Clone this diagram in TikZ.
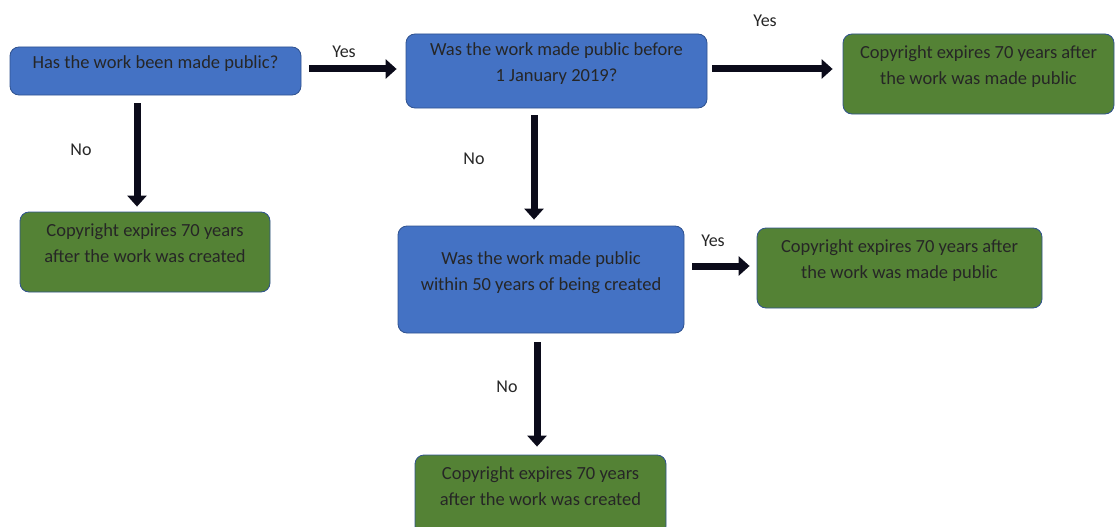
\documentclass[tikz,border=0pt]{standalone}
\usepackage{fontspec}
\setmainfont{Carlito}
\usetikzlibrary{arrows.meta}
\definecolor{qblue}{HTML}{4472C4}
\definecolor{qgreen}{HTML}{548235}
\definecolor{qline}{HTML}{2F528F}
\definecolor{arrowink}{HTML}{0B0B1A}
\tikzset{
  question/.style={shape=rectangle, rounded corners=9pt, draw=qline, fill=qblue, thick, align=center, text depth=17pt, text=black!85, font=\fontsize{18.5}{26}\selectfont},
  answer/.style={question, fill=qgreen},
  flow/.style={-{Triangle[length=11pt,width=19pt]}, line width=7pt, draw=arrowink},
  tag/.style={text=black!85, font=\fontsize{18}{20}\selectfont}
}
\begin{document}
\begin{tikzpicture}[x=1pt, y=-1pt]
\useasboundingbox (0,0) rectangle (1116,527);
% questions
\node[question, minimum width=291pt, minimum height=48pt] (pub) at (155.5,71) {Has the work been made public?};
\node[question, minimum width=301pt, minimum height=74pt] (before) at (556.5,71) {Was the work made public before\\1 January 2019?};
\node[question, minimum width=286pt, minimum height=107pt] (within) at (541,279.5) {Was the work made public\\within 50 years of being created};
% answers
\node[answer, minimum width=271pt, minimum height=80pt] (afterpub1) at (978.5,74) {Copyright expires 70 years after\\the work was made public};
\node[answer, minimum width=250pt, minimum height=80pt] (created1) at (145,252) {Copyright expires 70 years\\after the work was created};
\node[answer, minimum width=285pt, minimum height=80pt] (afterpub2) at (899.5,268) {Copyright expires 70 years after\\the work was made public};
\node[answer, minimum width=251pt, minimum height=80pt] (created2) at (540.5,495) {Copyright expires 70 years\\after the work was created};
% arrows
\draw [flow, shorten <=8pt, shorten >=9pt] ([yshift=2pt]pub.east) -- ([yshift=2pt]before.west);
\draw [flow, shorten <=5pt, shorten >=10pt] ([yshift=2pt]before.east) -- ([yshift=2pt]before.east -| afterpub1.west);
\draw [flow, shorten <=8pt, shorten >=5pt] ([xshift=-18.5pt]pub.south) -- ([xshift=-18.5pt]pub.south |- created1.north);
\draw [flow, shorten <=7pt, shorten >=6pt] ([xshift=-22.5pt]before.south) -- ([xshift=-22.5pt]before.south |- within.north);
\draw [flow, shorten <=8pt, shorten >=7pt] ([yshift=2pt]afterpub2.west -| within.east) -- ([yshift=2pt]afterpub2.west);
\draw [flow, shorten <=9pt, shorten >=8pt] ([xshift=-4pt]within.south) -- ([xshift=-4pt]within.south |- created2.north);
% labels
\node[tag] (yes1) at (344,52) {Yes};
\node[tag] (yes2) at (765,21) {Yes};
\node[tag] (yes3) at (713,241) {Yes};
\node[tag] (no1) at (81,150) {No};
\node[tag] (no2) at (474,159) {No};
\node[tag] (no3) at (507,387) {No};
\end{tikzpicture}
\end{document}
